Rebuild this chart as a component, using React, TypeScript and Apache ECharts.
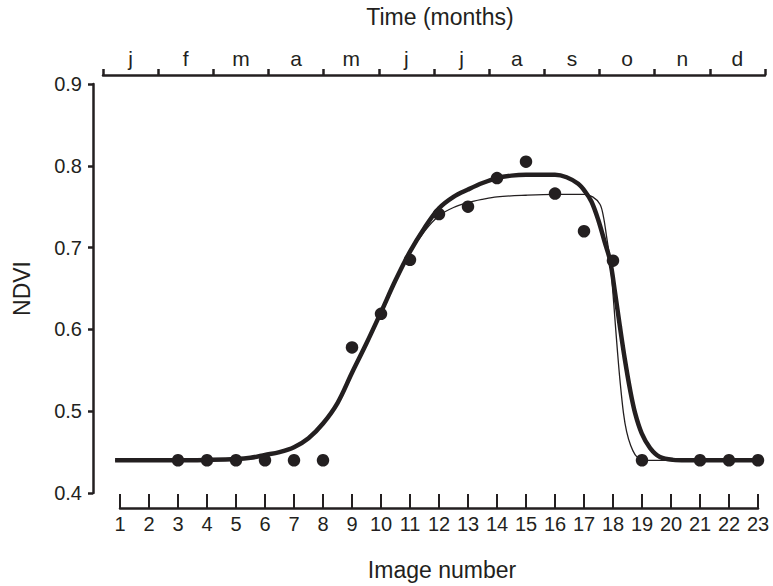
import React, { useEffect, useRef } from "react";
import * as echarts from "echarts";

const months = ["j", "f", "m", "a", "m", "j", "j", "a", "s", "o", "n", "d"];

const dotX = [3, 4, 5, 6, 7, 8, 9, 10, 11, 12, 13, 14, 15, 16, 17, 18, 19, 21, 22, 23];
const dotY = [0.44, 0.44, 0.44, 0.44, 0.44, 0.44, 0.578, 0.619, 0.685, 0.741, 0.75, 0.785, 0.805, 0.766, 0.72, 0.684, 0.44, 0.44, 0.44, 0.44];

const thickX = [0.83, 2, 3, 4, 5, 5.5, 6, 6.5, 7, 7.5, 8, 8.5, 9, 9.5, 10, 10.5, 11, 11.5, 12, 12.5, 13, 13.5, 14, 14.5, 15, 15.5, 16, 16.4, 16.8, 17.05, 17.26, 17.49, 17.72, 17.9, 18.07, 18.24, 18.41, 18.59, 18.76, 18.99, 19.28, 19.62, 20.07, 20.5, 21, 22, 23];
const thickY = [0.44, 0.44, 0.44, 0.4405, 0.4415, 0.443, 0.4465, 0.45, 0.456, 0.467, 0.485, 0.51, 0.547, 0.583, 0.621, 0.66, 0.695, 0.724, 0.748, 0.762, 0.771, 0.779, 0.785, 0.788, 0.789, 0.789, 0.789, 0.786, 0.778, 0.768, 0.756, 0.734, 0.706, 0.684, 0.645, 0.603, 0.563, 0.526, 0.498, 0.473, 0.455, 0.444, 0.4405, 0.44, 0.44, 0.44, 0.44];

const thinX = [0.83, 2, 3, 4, 5, 5.5, 6, 6.5, 7, 7.5, 8, 8.5, 9, 9.5, 10, 10.5, 11, 11.5, 12, 12.5, 13, 13.5, 14, 15, 16, 17, 17.3, 17.55, 17.67, 17.78, 17.9, 17.99, 18.07, 18.15, 18.24, 18.36, 18.47, 18.61, 18.76, 18.9, 19, 20, 21, 22, 23];
const thinY = [0.44, 0.44, 0.44, 0.4405, 0.4415, 0.443, 0.446, 0.45, 0.456, 0.467, 0.484, 0.509, 0.545, 0.583, 0.622, 0.66, 0.694, 0.72, 0.739, 0.749, 0.755, 0.759, 0.762, 0.764, 0.765, 0.765, 0.762, 0.753, 0.738, 0.713, 0.684, 0.648, 0.611, 0.575, 0.538, 0.498, 0.475, 0.458, 0.447, 0.442, 0.44, 0.44, 0.44, 0.44, 0.44];

const INK = "#231f20";
const FONT = "'Liberation Sans', Arial, sans-serif";

export default function App() {
  const ref = useRef<HTMLDivElement>(null);
  useEffect(() => {
    document.body.style.margin = "0";
    if (!ref.current) return;
    const chart = echarts.init(ref.current, null, { renderer: "svg" });
    const zip = (xs: number[], ys: number[]) => xs.map((x, i) => [x, ys[i]]);
    const textStyle = { color: INK, fontFamily: FONT };
    chart.setOption({
      animation: false,
      backgroundColor: "#ffffff",
      textStyle,
      grid: [
        { left: 105.5, right: 0.5, top: 84, bottom: 93 },
        { left: 120, right: 15, top: 84, bottom: 93 },
        { left: 103, right: 8, top: 75, height: 100 },
      ],
      xAxis: [
        { gridIndex: 0, type: "value", min: 0.5, max: 23.5, show: false },
        {
          gridIndex: 1,
          type: "value",
          min: 1,
          max: 23,
          interval: 1,
          position: "bottom",
          offset: 18,
          splitLine: { show: false },
          axisLine: { onZero: false, lineStyle: { color: INK, width: 2.5 } },
          axisTick: { show: true, inside: true, length: 14, lineStyle: { color: INK, width: 2 } },
          axisLabel: { color: INK, fontFamily: FONT, fontSize: 20, margin: 6 },
          name: "Image number",
          nameLocation: "middle",
          nameGap: 50,
          nameTextStyle: { color: INK, fontFamily: FONT, fontSize: 23, padding: [0, 0, 0, 6] },
        },
        {
          gridIndex: 2,
          type: "category",
          data: months,
          position: "top",
          boundaryGap: true,
          splitLine: { show: false },
          axisLine: { show: true, onZero: false, lineStyle: { color: INK, width: 2.5 } },
          axisTick: { show: true, interval: 0, alignWithLabel: false, inside: false, length: 6, lineStyle: { color: INK, width: 2.5 } },
          axisLabel: { color: INK, fontFamily: FONT, fontSize: 21, margin: 6, interval: 0 },
          name: "Time (months)",
          nameLocation: "middle",
          nameGap: 47,
          nameTextStyle: { color: INK, fontFamily: FONT, fontSize: 23, padding: [0, 0, 0, 12] },
        },
      ],
      yAxis: [
        {
          gridIndex: 0,
          type: "value",
          min: 0.4,
          max: 0.9,
          interval: 0.1,
          offset: 12.5,
          splitLine: { show: false },
          axisLine: { show: true, onZero: false, lineStyle: { color: INK, width: 2.5 } },
          axisTick: { show: true, length: 5, lineStyle: { color: INK, width: 2.5 } },
          axisLabel: { color: INK, fontFamily: FONT, fontSize: 20, margin: 11, formatter: (v: number) => v.toFixed(1) },
          name: "NDVI",
          nameLocation: "middle",
          nameGap: 60,
          nameTextStyle: { color: INK, fontFamily: FONT, fontSize: 23 },
        },
        { gridIndex: 1, type: "value", min: 0, max: 1, show: false },
        { gridIndex: 2, type: "value", min: 0, max: 1, show: false },
      ],
      series: [
        {
          type: "line",
          xAxisIndex: 0,
          yAxisIndex: 0,
          data: zip(thinX, thinY),
          showSymbol: false,
          symbol: "none",
          smooth: 0.35,
          lineStyle: { color: INK, width: 1.3 },
          z: 2,
        },
        {
          type: "line",
          xAxisIndex: 0,
          yAxisIndex: 0,
          data: zip(thickX, thickY),
          showSymbol: false,
          symbol: "none",
          smooth: 0.35,
          lineStyle: { color: INK, width: 4.5 },
          z: 3,
        },
        {
          type: "scatter",
          xAxisIndex: 0,
          yAxisIndex: 0,
          data: zip(dotX, dotY),
          symbol: "circle",
          symbolSize: 12.5,
          itemStyle: { color: INK, opacity: 1 },
          z: 4,
        },
      ],
    });
    return () => chart.dispose();
  }, []);
  return <div ref={ref} style={{ width: 773, height: 586 }} />;
}
